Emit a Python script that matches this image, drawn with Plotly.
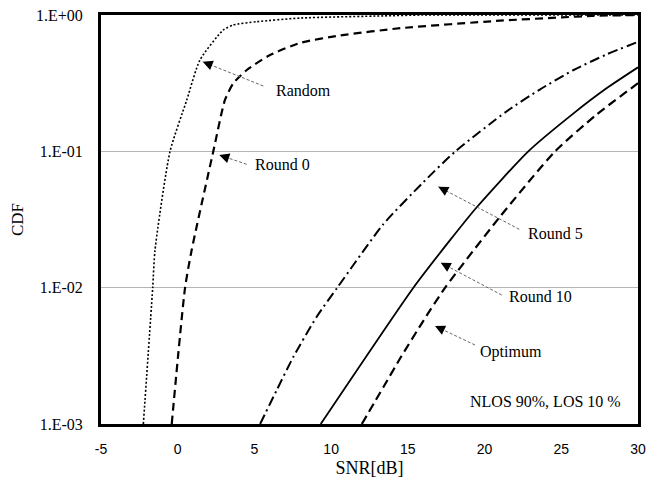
import plotly.graph_objects as go

# ---------------- data ----------------
random_x = [-2.24, -1.63, -1.48, -0.5, 0.59, 1.45, 2.97, 3.62, 5.15, 8.0, 13.4, 16.0, 30]
random_y = [0.001, 0.01, 0.0189, 0.1, 0.238, 0.468, 0.776, 0.845, 0.893, 0.95, 0.985, 1.0, 1.0]

round0_x = [-0.39, 0.48, 0.91, 2.32, 3.08, 3.62, 4.5, 6.02, 8.0, 10.6, 14.5, 21.0, 25.0, 27.0, 30]
round0_y = [0.001, 0.01, 0.0189, 0.1, 0.238, 0.315, 0.395, 0.509, 0.625, 0.708, 0.80, 0.908, 0.96, 0.985, 1.0]

round5_x = [5.37, 6.45, 7.54, 9.06, 10.4, 13.4, 16.0, 18.1, 21.45, 23.6, 25.8, 27.97, 30]
round5_y = [0.001, 0.00177, 0.00311, 0.00612, 0.01, 0.0292, 0.0592, 0.1, 0.197, 0.284, 0.395, 0.515, 0.635]

round10_x = [9.32, 15.36, 17.75, 19.49, 22.85, 25.8, 27.97, 30]
round10_y = [0.001, 0.01, 0.0223, 0.0389, 0.1, 0.19, 0.291, 0.413]

optimum_x = [12.0, 13.4, 14.49, 16.0, 17.43, 21.0, 24.6, 27.3, 30]
optimum_y = [0.001, 0.00186, 0.00302, 0.00569, 0.01, 0.0331, 0.1, 0.186, 0.316]

x_ticks = [-5, 0, 5, 10, 15, 20, 25, 30]
x_ticktext = ["-5", "0", "5", "10", "15", "20", "25", "30"]
y_ticks = [0.001, 0.01, 0.1, 1.0]
y_ticktext = ["1.E-03", "1.E-02", "1.E-01", "1.E+00"]

labels = ["Random", "Round 0", "Round 5", "Round 10", "Optimum"]
note = "NLOS 90%, LOS 10 %"

# ---------------- layout geometry (pixels, in the page) ----------------
OFF = 8                      # default body margin of the html page
W, H = 665 - OFF, 480 - OFF  # figure size so that it fits the window
L, R, T, B = 101, 638, 15, 424   # plot-area edges in page pixels
PW, PH = R - L, B - T

def px(xp):
    return (xp - L) / PW

def py(yp):
    return (B - yp) / PH

# label arrows: (tip_px, tip_py, tail_px, tail_py, text_cx, text_cy)
arrow_geo = [
    (202.7, 61.7, 263.3, 86.0, 303.0, 91.0),
    (219.3, 155.0, 246.7, 164.3, 282.3, 164.3),
    (438.3, 186.7, 519.3, 229.3, 555.3, 233.3),
    (440.7, 262.7, 501.7, 295.0, 540.0, 296.7),
    (435.0, 326.0, 475.0, 345.0, 511.0, 352.0),
]

SERIF = "Liberation Serif, Times New Roman, serif"
SANS = "Liberation Sans, Arial, sans-serif"

fig = go.Figure()

series = [
    (random_x, random_y, dict(color="black", width=1.6, dash="2px,2px")),
    (round0_x, round0_y, dict(color="black", width=2.2, dash="8px,5px")),
    (round5_x, round5_y, dict(color="black", width=2.0, dash="10px,4px,2px,4px")),
    (round10_x, round10_y, dict(color="black", width=1.8)),
    (optimum_x, optimum_y, dict(color="black", width=2.2, dash="9px,5px")),
]
for (xs, ys, ln), name in zip(series, labels):
    ln = dict(ln, shape="spline", smoothing=0.6)
    fig.add_trace(go.Scatter(x=xs, y=ys, mode="lines", line=ln, name=name,
                             showlegend=False, hoverinfo="skip", cliponaxis=True))

annotations = []
shapes = []
for (tx, ty, sx, sy, cx, cy), name in zip(arrow_geo, labels):
    shapes.append(dict(type="line", xref="paper", yref="paper",
                       x0=px(sx), y0=py(sy), x1=px(tx), y1=py(ty),
                       line=dict(color="#666666", width=1, dash="3px,2px")))
    dx, dy = sx - tx, sy - ty
    n = (dx * dx + dy * dy) ** 0.5
    hl = 8.0
    annotations.append(dict(x=px(tx), y=py(ty), xref="paper", yref="paper",
                            text="", showarrow=True, arrowhead=2, arrowsize=2.0,
                            arrowwidth=1, arrowcolor="black",
                            ax=dx / n * hl, ay=dy / n * hl, standoff=0))
    annotations.append(dict(x=px(cx), y=py(cy), xref="paper", yref="paper",
                            text=name, showarrow=False,
                            font=dict(family=SERIF, size=16, color="black"),
                            xanchor="center", yanchor="middle"))

annotations.append(dict(x=px(623), y=py(401.7), xref="paper", yref="paper",
                        text=note, showarrow=False,
                        font=dict(family=SERIF, size=16, color="black"),
                        xanchor="right", yanchor="middle"))

fig.update_layout(
    width=W, height=H,
    margin=dict(l=L - OFF, r=W - (R - OFF), t=T - OFF, b=H - (B - OFF), pad=0,
                autoexpand=False),
    paper_bgcolor="white", plot_bgcolor="white",
    annotations=annotations, shapes=shapes,
    xaxis=dict(range=[-5, 30], tickvals=x_ticks, ticktext=x_ticktext,
               showgrid=False, zeroline=False, automargin=False,
               showline=True, mirror=True, linecolor="black", linewidth=3,
               ticks="", ticklabelstandoff=10, ticklabeloverflow="allow",
               tickfont=dict(family=SANS, size=14, color="black"),
               title=dict(text="SNR[dB]", font=dict(family=SERIF, size=18, color="black"),
                          standoff=6)),
    yaxis=dict(type="log", range=[-3, 0], tickvals=y_ticks, ticktext=y_ticktext,
               showgrid=True, gridcolor="#b5b5b5", gridwidth=1, zeroline=False,
               automargin=False,
               showline=True, mirror=True, linecolor="black", linewidth=3,
               ticks="", ticklabelstandoff=12, ticklabeloverflow="allow",
               tickfont=dict(family=SERIF, size=16, color="black"),
               title=dict(text="CDF", font=dict(family=SERIF, size=17, color="black"),
                          standoff=11)),
)

fig.write_html("out.html")
